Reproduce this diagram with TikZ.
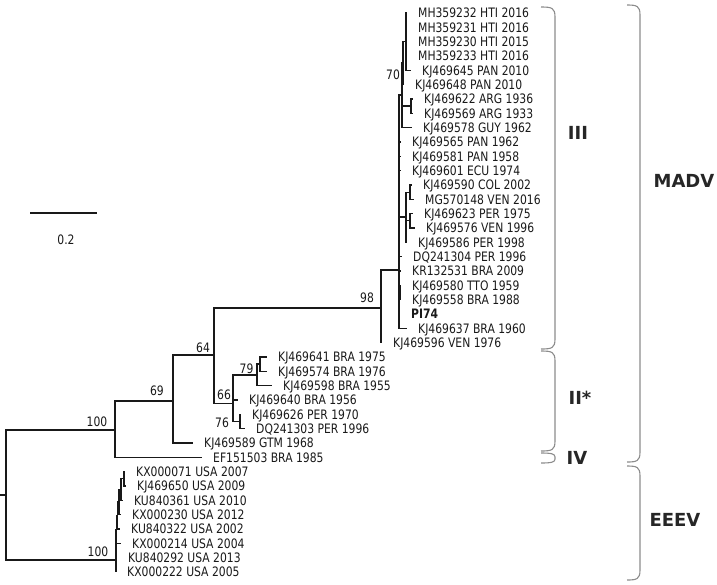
\documentclass[tikz,border=0pt]{standalone}
\usepackage{fontspec}
\setmainfont{DejaVu Sans}[FakeStretch=0.83]
\newfontfamily\cladefont{DejaVu Sans}
\begin{document}
\begin{tikzpicture}[x=1pt,y=-1pt,
  br/.style={line width=1.1pt, draw=black!90},
  lab/.style={anchor=base west, inner sep=0pt, xshift=11pt, yshift=-4.7pt, font=\fontsize{13}{15}\selectfont, text=black!90},
  boot/.style={inner sep=0pt, font=\fontsize{13}{15}\selectfont, text=black!90},
  clab/.style={inner sep=0pt, font=\cladefont\fontsize{18}{22}\selectfont\bfseries, text=black!85},
  brk/.style={draw=black!45, line width=1.1pt}]
\useasboundingbox (0,0) rectangle (717,584);
\newcommand\tipnode[4]{\coordinate (#1) at (#2,#3); \node[lab] (#1-l) at (#1) {#4};}
\newcommand\bracketshape[5]{\draw[brk] (#1,#3) .. controls (#2-3,#3) and (#2,#3+1) .. (#2,#3+#5) -- (#2,#4-#5) .. controls (#2,#4-1) and (#2-3,#4) .. (#1,#4);}
% tips
\tipnode{t1}{407}{13.0}{MH359232 HTI 2016}
\tipnode{t2}{407}{27.3}{MH359231 HTI 2016}
\tipnode{t3}{407}{41.7}{MH359230 HTI 2015}
\tipnode{t4}{407}{56.0}{MH359233 HTI 2016}
\tipnode{t5}{411}{70.3}{KJ469645 PAN 2010}
\tipnode{t6}{404}{84.7}{KJ469648 PAN 2010}
\tipnode{t7}{413}{99.0}{KJ469622 ARG 1936}
\tipnode{t8}{413}{113.3}{KJ469569 ARG 1933}
\tipnode{t9}{412}{127.6}{KJ469578 GUY 1962}
\tipnode{t10}{401}{142.0}{KJ469565 PAN 1962}
\tipnode{t11}{401}{156.3}{KJ469581 PAN 1958}
\tipnode{t12}{401}{170.6}{KJ469601 ECU 1974}
\tipnode{t13}{412}{185.0}{KJ469590 COL 2002}
\tipnode{t14}{414}{199.3}{MG570148 VEN 2016}
\tipnode{t15}{413}{213.6}{KJ469623 PER 1975}
\tipnode{t16}{415}{228.0}{KJ469576 VEN 1996}
\tipnode{t17}{407}{242.3}{KJ469586 PER 1998}
\tipnode{t18}{402}{256.6}{DQ241304 PER 1996}
\tipnode{t19}{401}{271.0}{KR132531 BRA 2009}
\tipnode{t20}{401}{285.3}{KJ469580 TTO 1959}
\tipnode{t21}{401}{299.6}{KJ469558 BRA 1988}
\tipnode{t22}{400}{314.0}{\textbf{PI74}}
\tipnode{t23}{407}{328.3}{KJ469637 BRA 1960}
\tipnode{t24}{382}{342.6}{KJ469596 VEN 1976}
\tipnode{t25}{267}{357.0}{KJ469641 BRA 1975}
\tipnode{t26}{267}{371.3}{KJ469574 BRA 1976}
\tipnode{t27}{272}{385.6}{KJ469598 BRA 1955}
\tipnode{t28}{238}{400.0}{KJ469640 BRA 1956}
\tipnode{t29}{241}{414.3}{KJ469626 PER 1970}
\tipnode{t30}{245}{428.6}{DQ241303 PER 1996}
\tipnode{t31}{193}{443.0}{KJ469589 GTM 1968}
\tipnode{t32}{202}{457.3}{EF151503 BRA 1985}
\tipnode{t33}{125}{471.6}{KX000071 USA 2007}
\tipnode{t34}{126}{486.0}{KJ469650 USA 2009}
\tipnode{t35}{123}{500.3}{KU840361 USA 2010}
\tipnode{t36}{121}{514.6}{KX000230 USA 2012}
\tipnode{t37}{120}{529.0}{KU840322 USA 2002}
\tipnode{t38}{121}{543.3}{KX000214 USA 2004}
\tipnode{t39}{117}{557.6}{KU840292 USA 2013}
\tipnode{t40}{116}{572.0}{KX000222 USA 2005}
% internal nodes
\coordinate (R0) at (0,495);
\coordinate (R) at (6,495);
\coordinate (M) at (115,430);
\coordinate (N69) at (173,401);
\coordinate (N64) at (214,355);
\coordinate (N98) at (381,308);
\coordinate (N66) at (233,403.5);
\coordinate (N79) at (257,375);
\coordinate (NA) at (260,364);
\coordinate (N76) at (240,421.5);
\coordinate (N3) at (399,270);
\coordinate (NT) at (402,95);
\coordinate (N70) at (403,63);
\coordinate (NH) at (406,41.5);
\coordinate (NG) at (411,106);
\coordinate (N7) at (406,217);
\coordinate (N4) at (410,192.2);
\coordinate (N6) at (410,220.8);
\coordinate (NK) at (400,292.5);
\coordinate (E0) at (116,560);
\coordinate (E1) at (116.5,529.4);
\coordinate (E2) at (117.5,515.5);
\coordinate (E3) at (119,502);
\coordinate (E4) at (121,489.5);
\coordinate (E5) at (124,478.8);
% branches
\draw[br] (R0) -- (R);
\foreach \p/\c in {R/M, R/E0, M/N69, M/t32, N69/N64, N69/t31, N64/N98, N64/N66,
  N98/N3, N98/t24, N66/N79, N66/t28, N66/N76, N79/NA, N79/t27, NA/t25, NA/t26,
  N76/t29, N76/t30, N3/NT, N3/t10, N3/t11, N3/t12, N3/N7, N3/t18, N3/t19, N3/NK,
  N3/t22, N3/t23, NT/N70, NT/NG, NT/t9, N70/NH, N70/t6, NH/t1, NH/t2, NH/t3, NH/t4,
  NH/t5, NG/t7, NG/t8, N7/N4, N7/N6, N7/t17, N4/t13, N4/t14, N6/t15, N6/t16,
  NK/t20, NK/t21, E0/E1, E0/t39, E0/t40, E1/E2, E1/t38, E2/E3, E2/t37, E3/E4,
  E3/t36, E4/E5, E4/t35, E5/t33, E5/t34}
  \draw[br] (\p) |- (\c);
% bootstrap values
\node[boot] (b100a) at (97,422) {100};
\node[boot] (b69) at (157,391) {69};
\node[boot] (b64) at (203,348) {64};
\node[boot] (b98) at (367,298) {98};
\node[boot] (b79) at (246.5,369) {79};
\node[boot] (b66) at (224,395) {66};
\node[boot] (b76) at (222,423) {76};
\node[boot] (b70) at (393,75) {70};
\node[boot] (b100b) at (98,552) {100};
% scale bar
\coordinate (SB1) at (30,213);
\coordinate (SB2) at (97,213);
\draw[br] (SB1) -- (SB2);
\node[boot] (sbl) at (66,240) {0.2};
% clade brackets
\bracketshape{541}{555}{7}{349}{10}
\bracketshape{541}{555}{351}{451}{10}
\bracketshape{541}{555}{453}{463}{4}
\bracketshape{627}{640}{5}{462}{10}
\bracketshape{627}{640}{466}{580}{10}
\node[clab] (cIII) at (578,133) {III};
\node[clab] (cII) at (580,398) {II*};
\node[clab] (cIV) at (577,458) {IV};
\node[clab] (cMADV) at (684,181) {MADV};
\node[clab] (cEEEV) at (675,520) {EEEV};
\end{tikzpicture}
\end{document}
